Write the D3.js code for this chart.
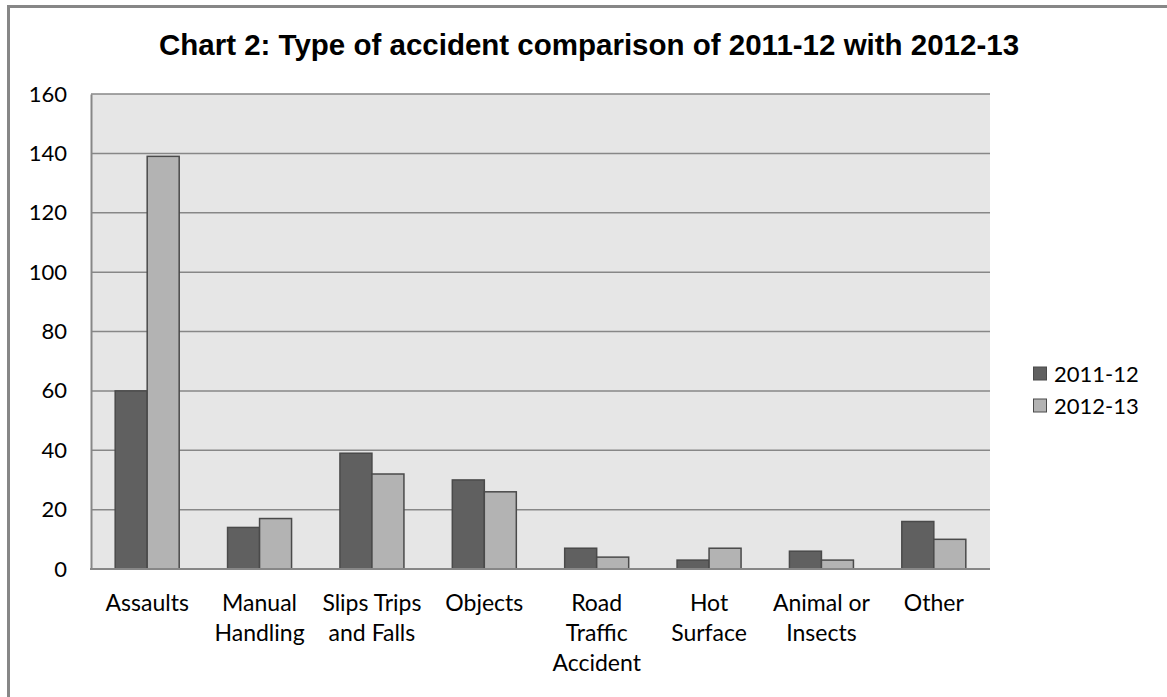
<!DOCTYPE html>
<html>
<head>
<meta charset="utf-8">
<script src="https://cdn.jsdelivr.net/npm/d3@7"></script>
<style>
  html, body { margin: 0; padding: 0; background: #fff; }
  svg { display: block; }
</style>
</head>
<body>
<svg id="chart" width="1167" height="697"></svg>
<script>
const categories = ["Assaults", "Manual\nHandling", "Slips Trips\nand Falls", "Objects", "Road\nTraffic\nAccident", "Hot\nSurface", "Animal or\nInsects", "Other"];
const seriesNames = ["2011-12", "2012-13"];
const values2011 = [60, 14, 39, 30, 7, 3, 6, 16];
const values2012 = [139, 17, 32, 26, 4, 7, 3, 10];
const yTicks = [0, 20, 40, 60, 80, 100, 120, 140, 160];
const title = "Chart 2: Type of accident comparison of 2011-12 with 2012-13";
const colors = ["#606060", "#b3b3b3"];

const svg = d3.select("#chart");
const W = 1167, H = 697;
const plot = { left: 91, right: 990, top: 94, bottom: 569 };
const labelFont = "Lato, 'Open Sans', sans-serif";

// outer chart border
svg.append("rect")
  .attr("x", 8.5).attr("y", 6.5)
  .attr("width", W + 20).attr("height", H + 20)
  .attr("fill", "#fff").attr("stroke", "#878787").attr("stroke-width", 3);

// title
svg.append("text")
  .attr("x", 589).attr("y", 55)
  .attr("text-anchor", "middle")
  .attr("font-family", "'Liberation Sans', Arial, sans-serif")
  .attr("font-weight", "bold")
  .attr("font-size", 29.5)
  .attr("fill", "#000")
  .text(title);

const x0 = d3.scaleBand().domain(categories).range([plot.left, plot.right]).paddingInner(0).paddingOuter(0);
const groupW = 64;
const x1 = d3.scaleBand().domain(seriesNames).range([0, groupW]);
const y = d3.scaleLinear().domain([0, 160]).range([plot.bottom, plot.top]);

// plot background
svg.append("rect")
  .attr("x", plot.left).attr("y", plot.top)
  .attr("width", plot.right - plot.left).attr("height", plot.bottom - plot.top)
  .attr("fill", "#e6e6e6");

// gridlines
svg.append("g")
  .selectAll("line")
  .data(yTicks.filter(d => d > 0))
  .join("line")
  .attr("x1", plot.left).attr("x2", plot.right)
  .attr("y1", d => y(d)).attr("y2", d => y(d))
  .attr("stroke", "#878787").attr("stroke-width", 1.5);

// y axis
const yAxis = d3.axisLeft(y).tickValues(yTicks).tickSize(0).tickPadding(24);
const gy = svg.append("g").attr("transform", `translate(${plot.left},0)`).call(yAxis);
gy.select(".domain").attr("stroke", "#878787").attr("stroke-width", 2);
gy.selectAll("text")
  .attr("font-family", labelFont).attr("font-size", 22).attr("fill", "#000");

// bars
const data = categories.map((c, i) => ({ cat: c, vals: [values2011[i], values2012[i]] }));
const groups = svg.append("g").selectAll("g")
  .data(data).join("g")
  .attr("transform", d => `translate(${x0(d.cat) + (x0.bandwidth() - groupW) / 2},0)`);
groups.selectAll("rect")
  .data(d => d.vals.map((v, j) => ({ s: seriesNames[j], v, j })))
  .join("rect")
  .attr("x", d => x1(d.s))
  .attr("y", d => y(d.v))
  .attr("width", x1.bandwidth())
  .attr("height", d => y(0) - y(d.v))
  .attr("fill", d => colors[d.j])
  .attr("stroke", "#4a4a4a").attr("stroke-width", 1.5);

// x axis line
svg.append("line")
  .attr("x1", plot.left - 1).attr("x2", plot.right)
  .attr("y1", plot.bottom).attr("y2", plot.bottom)
  .attr("stroke", "#878787").attr("stroke-width", 2);

// x labels
const xl = svg.append("g").selectAll("text")
  .data(categories).join("text")
  .attr("x", d => x0(d) + x0.bandwidth() / 2)
  .attr("y", 611)
  .attr("text-anchor", "middle")
  .attr("font-family", labelFont).attr("font-size", 23).attr("fill", "#000");
xl.each(function(d) {
  const t = d3.select(this);
  d.split("\n").forEach((line, i) => {
    t.append("tspan").attr("x", x0(d) + x0.bandwidth() / 2).attr("dy", i === 0 ? 0 : 30).text(line);
  });
});

// legend
const legend = svg.append("g").attr("transform", "translate(1033,374)");
const li = legend.selectAll("g").data(seriesNames).join("g")
  .attr("transform", (d, i) => `translate(0,${i * 32})`);
li.append("rect")
  .attr("x", 0.5).attr("y", -7).attr("width", 13).attr("height", 13)
  .attr("fill", (d, i) => colors[i]).attr("stroke", "#4a4a4a").attr("stroke-width", 1);
li.append("text")
  .attr("x", 21).attr("y", 0).attr("dy", "0.35em")
  .attr("font-family", labelFont).attr("font-size", 22).attr("fill", "#000")
  .text(d => d);
</script>
</body>
</html>
